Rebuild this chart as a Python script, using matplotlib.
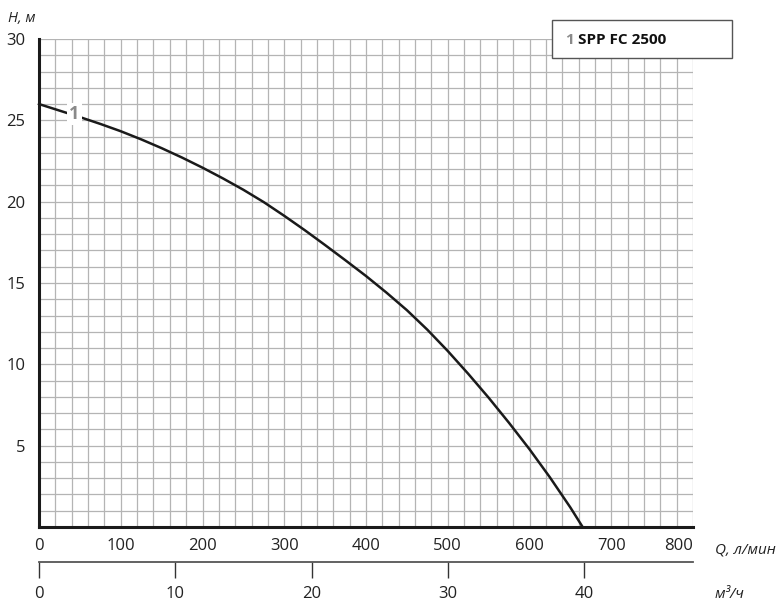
import matplotlib
matplotlib.use("Agg")
import matplotlib.pyplot as plt
from matplotlib.patches import Rectangle
import numpy as np

plt.rcParams['font.family'] = ['Open Sans', 'DejaVu Sans']

# Data: pump curve 1 SPP FC 2500 (Q in l/min, H in m)
Q = [0, 25, 50, 75, 100, 125, 150, 175, 200, 225, 250, 275, 300, 325, 350,
     375, 400, 425, 450, 475, 500, 525, 550, 575, 600, 625, 650, 665]
H = [26.0, 25.6, 25.2, 24.78, 24.33, 23.83, 23.29, 22.71, 22.09, 21.43, 20.73,
     19.97, 19.13, 18.25, 17.33, 16.39, 15.43, 14.41, 13.33, 12.13, 10.82, 9.42,
     7.95, 6.4, 4.78, 3.05, 1.2, 0.0]
x_ticks = [0, 100, 200, 300, 400, 500, 600, 700, 800]
y_ticks = [5, 10, 15, 20, 25, 30]
m3_ticks = [0, 10, 20, 30, 40]
series_name = "SPP FC 2500"
series_num = "1"

W, Hpx = 781, 605
fig = plt.figure(figsize=(W / 100, Hpx / 100), dpi=100)
ax = fig.add_axes([39 / W, (Hpx - 527) / Hpx, 654 / W, 488 / Hpx])
ax.set_xlim(0, 800)
ax.set_ylim(0, 30)

# grid
ax.set_xticks(np.arange(0, 801, 20), minor=True)
ax.set_yticks(np.arange(0, 31, 1), minor=True)
ax.set_xticks(x_ticks)
ax.set_yticks(y_ticks)
ax.grid(which='both', color='#b4b4b4', lw=0.9)
ax.tick_params(which='minor', length=0)
ax.set_axisbelow(True)

ax.set_xticklabels([str(v) for v in x_ticks])
ax.set_yticklabels([str(v) for v in y_ticks])
ax.tick_params(which='major', length=0, labelsize=12, colors='#222222', pad=8)
ax.tick_params(axis='y', pad=10)
labs = ax.get_xticklabels()
labs[-1].set_ha('right')

for s in ['top', 'right']:
    ax.spines[s].set_visible(False)
for s in ['left', 'bottom']:
    ax.spines[s].set_linewidth(2.2)
    ax.spines[s].set_color('#1a1a1a')

# curve
ax.plot(Q, H, color='#1a1a1a', lw=1.8, zorder=3, clip_on=False,
        solid_joinstyle='round')

# curve label
ax.text(43, 25.4, series_num, color='#8a8a8a', fontsize=13, fontweight='bold',
        ha='center', va='center', zorder=4,
        bbox=dict(facecolor='white', edgecolor='none', pad=1.5))

# legend box
fig.patches.append(Rectangle((552 / W, 1 - 58 / Hpx), 180 / W, 38 / Hpx,
                             transform=fig.transFigure, facecolor='white',
                             edgecolor='#555555', lw=1.0, zorder=5))
fig.text(565 / W, 1 - 40 / Hpx, series_num, color='#8a8a8a', fontsize=11,
         fontweight='bold', va='center', ha='left', zorder=6)
fig.text(578 / W, 1 - 40 / Hpx, series_name, color='#111111', fontsize=11,
         fontweight='bold', va='center', ha='left', zorder=6)

# axis titles
fig.text(8 / W, 1 - 18 / Hpx, "H, м", fontsize=10.5, style='italic', color='#222222',
         va='center', ha='left')
fig.text(715 / W, 1 - 550 / Hpx, "Q, л/мин", fontsize=11, style='italic', color='#222222',
         va='center', ha='left')
fig.text(715 / W, 1 - 595 / Hpx, "м³/ч", fontsize=11, style='italic', color='#222222',
         va='center', ha='left')

# secondary axis m3/h
sec = ax.secondary_xaxis(-35 / 488, functions=(lambda q: q * 0.06, lambda m: m / 0.06))
sec.set_xticks(m3_ticks)
sec.set_xticklabels([str(v) for v in m3_ticks])
sec.tick_params(direction='out', length=11.5, width=1.0, colors='#333333', labelsize=12, pad=6)
sec.tick_params(labelcolor='#222222')
sec.spines['bottom'].set_color('#555555')
sec.spines['bottom'].set_linewidth(1.3)

fig.savefig("out.png", dpi=100)
